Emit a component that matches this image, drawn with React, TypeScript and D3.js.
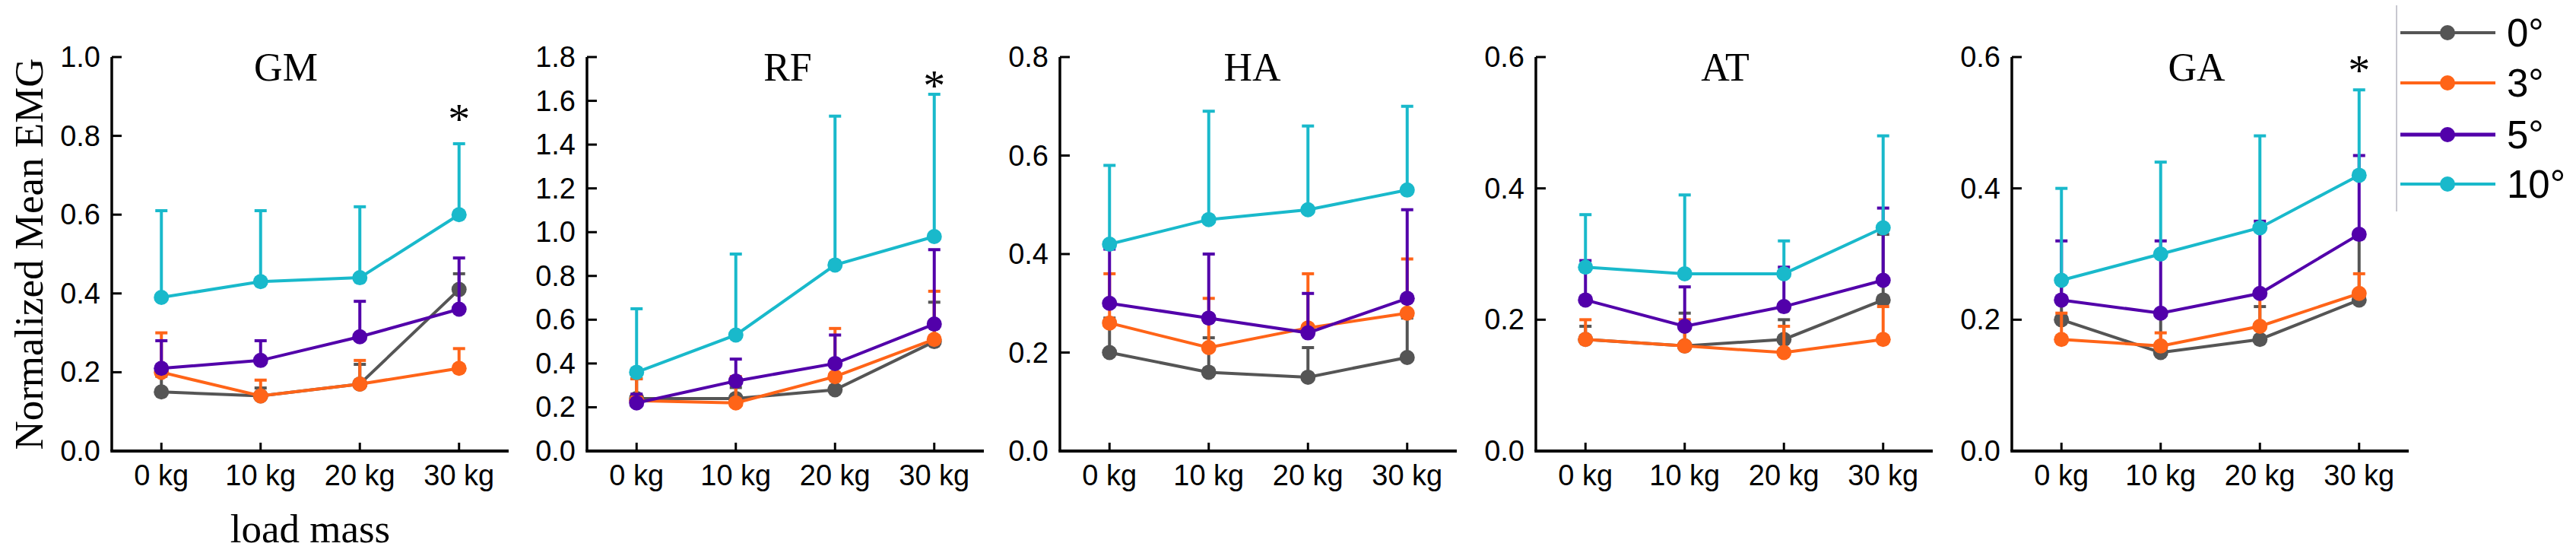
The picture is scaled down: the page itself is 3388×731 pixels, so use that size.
import React from "react";
import * as d3 from "d3";

const loads = ["0 kg", "10 kg", "20 kg", "30 kg"];
const angles = ["0°", "3°", "5°", "10°"];
const muscles = ["GM", "RF", "HA", "AT", "GA"];
const yMaxes = [1.0, 1.8, 0.8, 0.6, 0.6];
const starValues = [0.86, 1.7, null, null, 0.59];

// means per muscle: [0°, 3°, 5°, 10°]
const gmMeans = [
  [0.15, 0.14, 0.17, 0.41],
  [0.2, 0.14, 0.17, 0.21],
  [0.21, 0.23, 0.29, 0.36],
  [0.39, 0.43, 0.44, 0.6],
];
const gmSD = [
  [0.04, 0.02, 0.05, 0.04],
  [0.1, 0.04, 0.06, 0.05],
  [0.07, 0.05, 0.09, 0.13],
  [0.22, 0.18, 0.18, 0.18],
];
const rfMeans = [
  [0.24, 0.24, 0.28, 0.5],
  [0.23, 0.22, 0.34, 0.51],
  [0.22, 0.32, 0.4, 0.58],
  [0.36, 0.53, 0.85, 0.98],
];
const rfSD = [
  [0.09, 0.05, 0.06, 0.18],
  [0.1, 0.12, 0.22, 0.22],
  [0.04, 0.1, 0.13, 0.34],
  [0.29, 0.37, 0.68, 0.65],
];
const haMeans = [
  [0.2, 0.16, 0.15, 0.19],
  [0.26, 0.21, 0.25, 0.28],
  [0.3, 0.27, 0.24, 0.31],
  [0.42, 0.47, 0.49, 0.53],
];
const haSD = [
  [0.07, 0.07, 0.06, 0.08],
  [0.1, 0.1, 0.11, 0.11],
  [0.11, 0.13, 0.08, 0.18],
  [0.16, 0.22, 0.17, 0.17],
];
const atMeans = [
  [0.17, 0.16, 0.17, 0.23],
  [0.17, 0.16, 0.15, 0.17],
  [0.23, 0.19, 0.22, 0.26],
  [0.28, 0.27, 0.27, 0.34],
];
const atSD = [
  [0.02, 0.05, 0.03, 0.1],
  [0.03, 0.04, 0.04, 0.05],
  [0.06, 0.06, 0.06, 0.11],
  [0.08, 0.12, 0.05, 0.14],
];
const gaMeans = [
  [0.2, 0.15, 0.17, 0.23],
  [0.17, 0.16, 0.19, 0.24],
  [0.23, 0.21, 0.24, 0.33],
  [0.26, 0.3, 0.34, 0.42],
];
const gaSD = [
  [0.06, 0.06, 0.05, 0.095],
  [0.04, 0.02, 0.05, 0.03],
  [0.09, 0.11, 0.11, 0.12],
  [0.14, 0.14, 0.14, 0.13],
];

const allMeans = [gmMeans, rfMeans, haMeans, atMeans, gaMeans];
const allSD = [gmSD, rfSD, haSD, atSD, gaSD];

const colors = ["#555555", "#ff6418", "#5200aa", "#19b9cb"];

// layout
const W = 3388;
const H = 731;
const panelLefts = [147, 772, 1394, 2020, 2646];
const panelW = 522;
const top = 75;
const bottom = 593;
const titleOffsets = [229, 264, 253, 249, 243];
const SANS = "'Liberation Sans', Arial, sans-serif";
const SERIF = "'Liberation Serif', 'Times New Roman', serif";

function Panel({ idx }: { idx: number }) {
  const left = panelLefts[idx];
  const x = d3.scalePoint<string>().domain(loads).range([left, left + panelW]).padding(0.5);
  const y = d3.scaleLinear().domain([0, yMaxes[idx]]).range([bottom, top]);
  const ticks = d3.range(0, yMaxes[idx] + 1e-9, 0.2);
  const line = d3
    .line<number>()
    .x((_, i) => x(loads[i]) as number)
    .y((d) => y(d));
  const means = allMeans[idx];
  const sds = allSD[idx];
  const star = starValues[idx];
  return (
    <g>
      {/* series */}
      {means.map((ser, s) => (
        <g key={s}>
          {ser.map((m, i) => {
            const cx = x(loads[i]) as number;
            const yt = y(m + sds[s][i]);
            return (
              <g key={i} stroke={colors[s]} strokeWidth={4}>
                <line x1={cx} x2={cx} y1={y(m)} y2={yt} />
                <line x1={cx - 8} x2={cx + 8} y1={yt} y2={yt} />
              </g>
            );
          })}
          <path d={line(ser) as string} fill="none" stroke={colors[s]} strokeWidth={4} />
          {ser.map((m, i) => (
            <circle key={i} cx={x(loads[i]) as number} cy={y(m)} r={10} fill={colors[s]} />
          ))}
        </g>
      ))}
      {/* axes */}
      <line x1={left} x2={left} y1={top} y2={bottom} stroke="#000" strokeWidth={3.5} />
      <line x1={left - 1.75} x2={left + panelW} y1={bottom} y2={bottom} stroke="#000" strokeWidth={4} />
      {ticks.map((t) => (
        <g key={t}>
          <line x1={left} x2={left + 13} y1={y(t)} y2={y(t)} stroke="#000" strokeWidth={3} />
          <text
            x={left - 15}
            y={y(t)}
            textAnchor="end"
            dominantBaseline="central"
            fontFamily={SANS}
            fontSize={38}
            fill="#000"
          >
            {d3.format(".1f")(t)}
          </text>
        </g>
      ))}
      {loads.map((l) => (
        <g key={l}>
          <line x1={x(l) as number} x2={x(l) as number} y1={bottom} y2={bottom - 11} stroke="#000" strokeWidth={3} />
          <text x={x(l) as number} y={638} textAnchor="middle" fontFamily={SANS} fontSize={38} fill="#000">
            {l}
          </text>
        </g>
      ))}
      <text x={left + titleOffsets[idx]} y={106} textAnchor="middle" fontFamily={SERIF} fontSize={52} fill="#000">
        {muscles[idx]}
      </text>
      {star !== null && (
        <text
          x={x(loads[3]) as number}
          y={y(star as number) + 28}
          textAnchor="middle"
          fontFamily={SERIF}
          fontSize={58}
          fill="#000"
        >
          *
        </text>
      )}
    </g>
  );
}

export default function App() {
  const legendRows = [43, 109, 177, 242];
  return (
    <svg
      width={W}
      height={H}
      viewBox={`0 0 ${W} ${H}`}
      style={{ position: "absolute", left: 0, top: 0, background: "#fff" }}
    >
      <rect width={W} height={H} fill="#fff" />
      {muscles.map((_, i) => (
        <Panel key={i} idx={i} />
      ))}
      <text
        transform={`translate(56, ${(top + bottom) / 2}) rotate(-90)`}
        textAnchor="middle"
        fontFamily={SERIF}
        fontSize={53}
        fill="#000"
      >
        Normalized Mean EMG
      </text>
      <text x={408} y={713} textAnchor="middle" fontFamily={SERIF} fontSize={53} fill="#000">
        load mass
      </text>
      {/* legend */}
      <line x1={3152} x2={3152} y1={7} y2={278} stroke="#c8c8d0" strokeWidth={2} />
      {angles.map((a, i) => (
        <g key={a}>
          <line x1={3157} x2={3282} y1={legendRows[i]} y2={legendRows[i]} stroke={colors[i]} strokeWidth={i === 2 ? 5 : 4} />
          <circle cx={3219} cy={legendRows[i]} r={10} fill={colors[i]} />
          <text
            x={3297}
            y={legendRows[i]}
            dominantBaseline="central"
            fontFamily={SANS}
            fontSize={51}
            fill="#000"
          >
            {a}
          </text>
        </g>
      ))}
    </svg>
  );
}
